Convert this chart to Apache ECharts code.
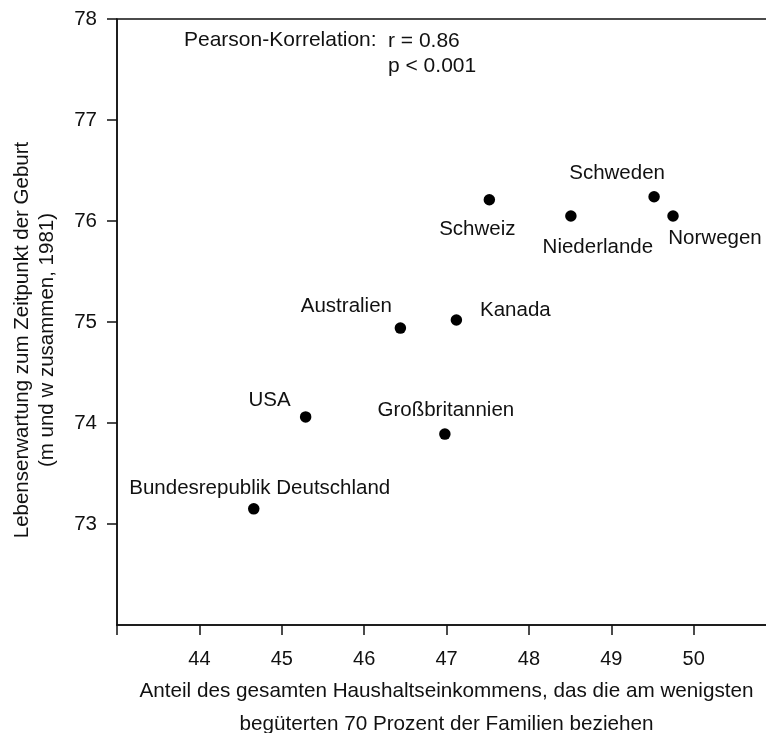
<!DOCTYPE html>
<html>
<head>
<meta charset="utf-8">
<script src="https://cdn.jsdelivr.net/npm/echarts@6/dist/echarts.min.js"></script>
<style>html,body{margin:0;padding:0;background:#fff;}#chart{width:766px;height:733px;}</style>
</head>
<body>
<div id="chart"></div>
<script>
// ---- data ----
var countries = ['Bundesrepublik Deutschland', 'USA', 'Australien', 'Kanada', 'Großbritannien', 'Schweiz', 'Niederlande', 'Schweden', 'Norwegen'];
var incomeShare = [44.66, 45.29, 46.44, 47.12, 46.98, 47.52, 48.51, 49.52, 49.75];
var lifeExpectancy = [73.15, 74.06, 74.94, 75.02, 73.89, 76.21, 76.05, 76.24, 76.05];
var xTickValues = [43, 44, 45, 46, 47, 48, 49, 50];
var xLabelValues = [44, 45, 46, 47, 48, 49, 50];
var yTickValues = [73, 74, 75, 76, 77, 78];
var yLabelValues = [73, 74, 75, 76, 77, 78];
var xAxisTitle = 'Anteil des gesamten Haushaltseinkommens, das die am wenigsten\nbegüterten 70 Prozent der Familien beziehen';
var yAxisTitle = 'Lebenserwartung zum Zeitpunkt der Geburt\n(m und w zusammen, 1981)';
var statLabel = 'Pearson-Korrelation:';
var statValues = 'r = 0.86\np < 0.001';

// ---- style (label placement relative to points, in px) ----
var labelOffsets = {
  'Bundesrepublik Deutschland': [6, -21],
  'USA': [-36, -17],
  'Australien': [-54, -22],
  'Kanada': [59, -10],
  'Großbritannien': [1, -24],
  'Schweiz': [-12, 30],
  'Niederlande': [27, 31],
  'Schweden': [-37, -23],
  'Norwegen': [42, 22]
};

var FONT = "'Liberation Sans', Arial, Helvetica, sans-serif";
var INK = '#111111';
var SYM = 11.5;

var points = countries.map(function (c, i) {
  return { name: c, value: [incomeShare[i], lifeExpectancy[i]] };
});

var chart = echarts.init(document.getElementById('chart'), null, { renderer: 'canvas' });
chart.setOption({
  backgroundColor: '#ffffff',
  animation: false,
  grid: {
    left: 117, top: 19, right: -10, bottom: 108,
    containLabel: false, outerBoundsMode: 'none',
    show: true, borderColor: INK, borderWidth: 1.5, backgroundColor: 'transparent'
  },
  xAxis: {
    type: 'value', min: 43, max: 51, interval: 1,
    splitLine: { show: false },
    axisLine: { show: true, lineStyle: { color: INK, width: 1.5 } },
    axisTick: { show: true, length: 10, inside: false, customValues: xTickValues, lineStyle: { color: INK, width: 1.5 } },
    axisLabel: { customValues: xLabelValues, margin: 24, fontFamily: FONT, fontSize: 20, color: INK },
    name: xAxisTitle, nameLocation: 'middle', nameGap: 50,
    nameTextStyle: { fontFamily: FONT, fontSize: 20.7, color: INK, lineHeight: 33 }
  },
  yAxis: {
    type: 'value', min: 72, max: 78, interval: 1,
    splitLine: { show: false },
    axisLine: { show: true, lineStyle: { color: INK, width: 1.5 } },
    axisTick: { show: true, length: 10, inside: false, customValues: yTickValues, lineStyle: { color: INK, width: 1.5 } },
    axisLabel: { customValues: yLabelValues, margin: 20, fontFamily: FONT, fontSize: 20.5, color: INK },
    name: yAxisTitle, nameLocation: 'middle', nameGap: 57, nameRotate: 90,
    nameTextStyle: { fontFamily: FONT, fontSize: 20.5, color: INK, lineHeight: 25, padding: [0, 36, 0, 0] }
  },
  graphic: [
    { type: 'text', left: 184, top: 30, style: { text: statLabel, font: '21px ' + FONT, fill: INK } },
    { type: 'text', left: 388, top: 29, style: { text: statValues, font: '21px ' + FONT, fill: INK, lineHeight: 25 } }
  ],
  series: [{
    type: 'scatter',
    symbol: 'circle',
    symbolSize: SYM,
    itemStyle: { color: '#000', opacity: 1 },
    data: points,
    label: {
      show: true,
      position: [SYM / 2, SYM / 2],
      formatter: '{b}',
      fontFamily: FONT,
      fontSize: 20.5,
      color: INK,
      opacity: 1,
      textBorderWidth: 0,
      align: 'center',
      verticalAlign: 'middle'
    },
    labelLayout: function (params) {
      var o = labelOffsets[countries[params.dataIndex]];
      return { dx: o[0], dy: o[1], hideOverlap: false };
    }
  }]
});
</script>
</body>
</html>
